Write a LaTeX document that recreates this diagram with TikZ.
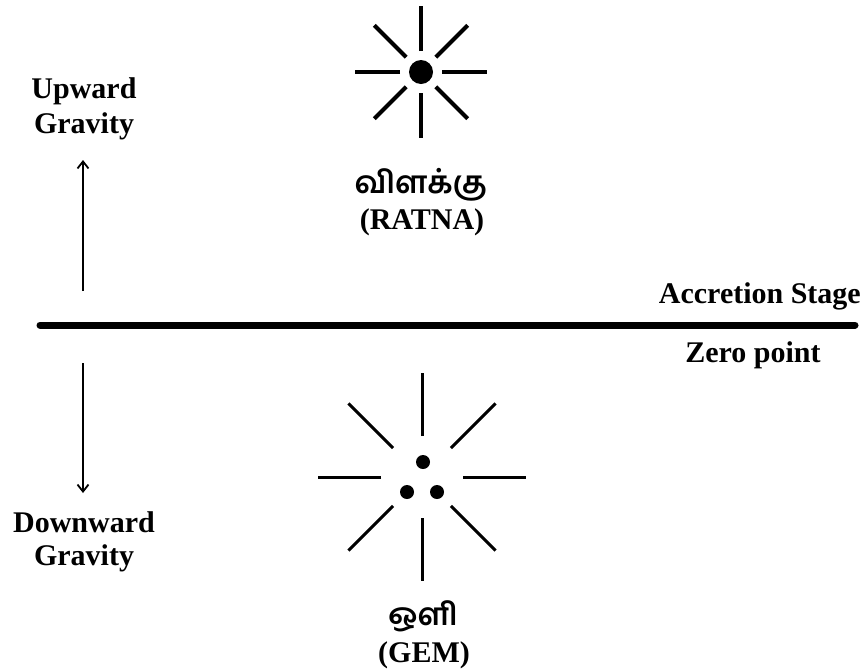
\documentclass[tikz,border=0pt]{standalone}
\usepackage{fontspec}
\setmainfont{Liberation Serif}
\newfontfamily\tamilfont[Script=Tamil]{Hind Madurai}
\usetikzlibrary{arrows.meta,calc}
\tikzset{
  lbl/.style={font=\fontsize{30}{35}\selectfont\bfseries, inner sep=0pt, anchor=base},
  tlbl/.style={font=\fontsize{31}{35}\selectfont\tamilfont\bfseries, inner sep=0pt, anchor=base},
  gravarrow/.style={line width=1.8pt, -{Straight Barb[length=7pt,width=11pt,line width=1.8pt]}},
  ray/.style={line width=4pt},
  thinray/.style={line width=3pt},
}
\begin{document}
\begin{tikzpicture}[x=1pt,y=-1pt]
\useasboundingbox (0,0) rectangle (865,670);
% zero line
\coordinate (zl) at (40,325);
\coordinate (zr) at (855,325);
\draw[line width=7pt, line cap=round] (zl) -- (zr);
\node[lbl, anchor=base east] (acc) at (861,303) {Accretion Stage};
\node[lbl] (zero) at (753,362) {Zero point};
% upward
\node[lbl] (up1) at (84,98) {Upward};
\node[lbl] (up2) at (84,133) {Gravity};
\coordinate (ua) at (83,291);
\coordinate (ub) at (83,160);
\draw[gravarrow] (ua) -- (ub);
% downward
\node[lbl] (down1) at (84,532) {Downward};
\node[lbl] (down2) at (84,565) {Gravity};
\coordinate (da) at (83,363);
\coordinate (db) at (83,493);
\draw[gravarrow] (da) -- (db);
% top star
\coordinate (s1) at (421,72);
\foreach \a in {0,45,...,315}
  \draw[ray] ($(s1)+(\a:21)$) -- ($(s1)+(\a:66)$);
\fill (s1) circle (12);
\node[tlbl] (vil) at (421,193) {விளக்கு};
\node[lbl] (ratna) at (422,229) {(RATNA)};
% bottom star
\coordinate (s2) at (422,477);
\foreach \a in {0,45,...,315}
  \draw[thinray] ($(s2)+(\a:41)$) -- ($(s2)+(\a:104)$);
\fill (423,462) circle (7);
\fill (407,492) circle (7);
\fill (437,492) circle (7);
\node[tlbl] (oli) at (423,625) {ஒளி};
\node[lbl] (gem) at (424,662) {(GEM)};
\end{tikzpicture}
\end{document}
